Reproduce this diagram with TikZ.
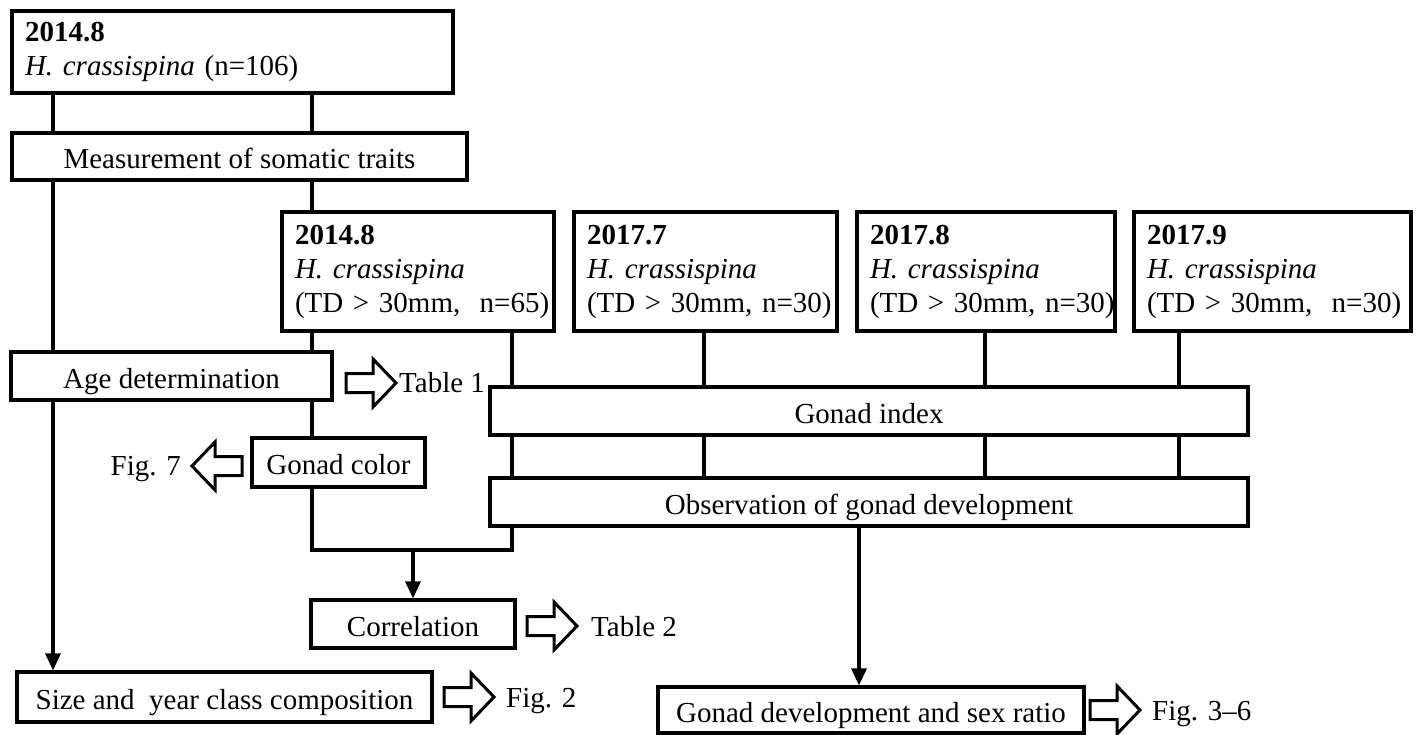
\documentclass[tikz,border=0pt]{standalone}
\usepackage{fontspec}
\setmainfont{Liberation Serif}
\usetikzlibrary{arrows.meta}
\tikzset{
  pics/rblock/.style={code={\draw[line width=3pt, line join=miter] (0,-9.5) -- (27,-9.5) -- (27,-24) -- (50,0) -- (27,24) -- (27,9.5) -- (0,9.5) -- cycle;}},
  pics/lblock/.style={code={\draw[line width=3pt, line join=miter] (0,-9.5) -- (-27,-9.5) -- (-27,-24) -- (-50,0) -- (-27,24) -- (-27,9.5) -- (0,9.5) -- cycle;}}
}
\begin{document}
\begin{tikzpicture}[x=1pt,y=-1pt,
  every node/.style={font=\fontsize{29}{34}\selectfont},
  box/.style={draw, line width=3.2pt, inner sep=0pt, rectangle},
  onebox/.style={box, text height=24pt, text depth=0pt},
  datebox/.style={box, align=left},
  conn/.style={line width=3.2pt},
  arr/.style={conn, -{Triangle[length=17pt,width=15pt]}},
  lbl/.style={inner sep=0pt}
]
\useasboundingbox (0,0) rectangle (1416,734);

% column coordinates
\coordinate (x53) at (53,0);
\coordinate (x312) at (312,0);
\coordinate (x512) at (512,0);
\coordinate (x704) at (704,0);
\coordinate (x985) at (985,0);
\coordinate (x1179) at (1179,0);
\coordinate (x859) at (859,0);

% boxes
\node[datebox, minimum width=441pt, minimum height=82pt, text width=415pt] (A) at (232.5,52)
  {\textbf{2014.8}\\\mbox{\textit{H. crassispina} (n=106)}};
\node[onebox, minimum width=455pt, minimum height=47pt] (M) at (239.5,156.5) {Measurement of somatic traits};

\node[datebox, minimum width=272pt, minimum height=119pt, text width=246pt] (B1) at (418,271.5)
  {\textbf{2014.8}\\\textit{H. crassispina}\\\mbox{(TD > 30mm,\ \ n=65)}};
\node[datebox, minimum width=263pt, minimum height=119pt, text width=237pt] (B2) at (705.5,271.5)
  {\textbf{2017.7}\\\textit{H. crassispina}\\\mbox{(TD > 30mm, n=30)}};
\node[datebox, minimum width=258pt, minimum height=119pt, text width=232pt] (B3) at (986,271.5)
  {\textbf{2017.8}\\\textit{H. crassispina}\\\mbox{(TD > 30mm, n=30)}};
\node[datebox, minimum width=277pt, minimum height=119pt, text width=251pt] (B4) at (1272.5,271.5)
  {\textbf{2017.9}\\\textit{H. crassispina}\\\mbox{(TD > 30mm,\ \ n=30)}};

\node[onebox, minimum width=321pt, minimum height=48pt] (Age) at (171.5,376) {Age determination};
\node[onebox, minimum width=173pt, minimum height=49pt] (GC) at (338.5,462.5) {Gonad color};
\node[onebox, minimum width=758pt, minimum height=48pt] (GI) at (869,411) {Gonad index};
\node[onebox, minimum width=758pt, minimum height=48pt] (Obs) at (869,502) {Observation of gonad development};
\node[onebox, minimum width=204pt, minimum height=48pt] (Corr) at (413,624) {Correlation};
\node[onebox, minimum width=415pt, minimum height=50pt] (Size) at (224.5,697) {Size and\ \ year class composition};
\node[onebox, minimum width=426pt, minimum height=46pt] (GD) at (871,710) {Gonad development and sex ratio};

% outcome labels and block arrows
\pic at (346,383) {rblock};
\node[lbl, anchor=west] (t1) at (399,383) {Table 1};
\pic at (242,466) {lblock};
\node[lbl, anchor=base east] (f7) at (181,475) {Fig. 7};
\pic at (527,626) {rblock};
\node[lbl, anchor=base west] (t2) at (591,636) {Table 2};
\pic at (444,697) {rblock};
\node[lbl, anchor=base west] (f2) at (506,707) {Fig. 2};
\pic at (1090,710) {rblock};
\node[lbl, anchor=base west] (f36) at (1152,720) {Fig. 3\textendash6};

% connectors
\draw[conn] (A.south -| x53) -- (M.north -| x53);
\draw[conn] (A.south -| x312) -- (M.north -| x312);
\draw[conn] (M.south -| x53) -- (Age.north -| x53);
\draw[arr] (Age.south -| x53) -- (Size.north -| x53);
\draw[conn] (M.south -| x312) -- (B1.north -| x312);
\draw[conn] (B1.south -| x312) -- (Age.north -| x312);
\draw[conn] (Age.south -| x312) -- (GC.north -| x312);
\coordinate (jl) at (312,550);
\coordinate (jr) at (512,550);
\draw[conn, line join=miter] (GC.south -| jl) -- (jl) -- (jr) -- (Obs.south -| jr);
\draw[arr] (jl -| Corr.north) -- (Corr.north);

\draw[conn] (B1.south -| x512) -- (GI.north -| x512);
\draw[conn] (GI.south -| x512) -- (Obs.north -| x512);
\draw[conn] (B2.south -| x704) -- (GI.north -| x704);
\draw[conn] (GI.south -| x704) -- (Obs.north -| x704);
\draw[conn] (B3.south -| x985) -- (GI.north -| x985);
\draw[conn] (GI.south -| x985) -- (Obs.north -| x985);
\draw[conn] (B4.south -| x1179) -- (GI.north -| x1179);
\draw[conn] (GI.south -| x1179) -- (Obs.north -| x1179);
\draw[arr] (Obs.south -| x859) -- (GD.north -| x859);
\end{tikzpicture}
\end{document}
